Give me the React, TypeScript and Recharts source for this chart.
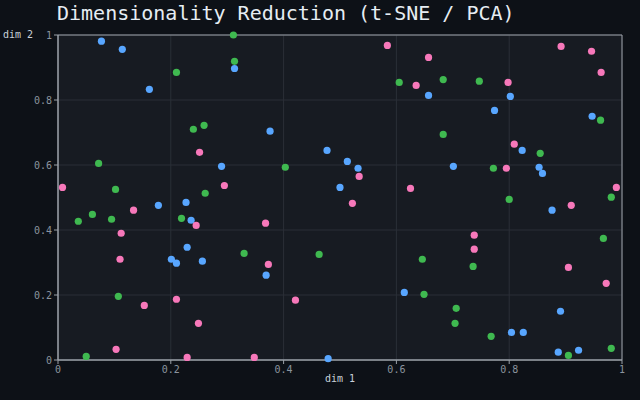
import {
  ScatterChart,
  Scatter,
  XAxis,
  YAxis,
  CartesianGrid,
  ReferenceArea,
} from "recharts";

// embedding coordinates per cluster
const blueX = [0.077, 0.114, 0.162, 0.313, 0.29, 0.376, 0.477, 0.513, 0.532, 0.5, 0.657, 0.802, 0.774, 0.947, 0.823, 0.701, 0.853, 0.859, 0.178, 0.227, 0.236, 0.229, 0.201, 0.21, 0.256, 0.369, 0.479, 0.614, 0.876, 0.891, 0.804, 0.825, 0.887, 0.923];
const blueY = [0.981, 0.956, 0.833, 0.897, 0.596, 0.704, 0.645, 0.611, 0.59, 0.531, 0.814, 0.811, 0.768, 0.75, 0.645, 0.596, 0.593, 0.574, 0.476, 0.485, 0.43, 0.347, 0.31, 0.298, 0.304, 0.261, 0.004, 0.208, 0.461, 0.15, 0.085, 0.085, 0.024, 0.03];

const pinkX = [0.008, 0.251, 0.295, 0.584, 0.657, 0.635, 0.534, 0.625, 0.892, 0.946, 0.963, 0.798, 0.809, 0.795, 0.99, 0.134, 0.245, 0.112, 0.11, 0.21, 0.153, 0.249, 0.103, 0.229, 0.522, 0.368, 0.373, 0.421, 0.348, 0.91, 0.738, 0.738, 0.905, 0.972];
const pinkY = [0.531, 0.639, 0.537, 0.968, 0.931, 0.845, 0.565, 0.528, 0.965, 0.95, 0.885, 0.854, 0.664, 0.59, 0.531, 0.461, 0.414, 0.39, 0.31, 0.187, 0.168, 0.113, 0.033, 0.008, 0.482, 0.421, 0.294, 0.184, 0.008, 0.476, 0.384, 0.341, 0.285, 0.236];

const greenX = [0.311, 0.313, 0.21, 0.24, 0.259, 0.072, 0.102, 0.261, 0.605, 0.403, 0.683, 0.747, 0.962, 0.683, 0.855, 0.772, 0.8, 0.981, 0.036, 0.061, 0.095, 0.219, 0.107, 0.05, 0.33, 0.463, 0.646, 0.649, 0.967, 0.736, 0.706, 0.704, 0.768, 0.905, 0.981];
const greenY = [1.0, 0.919, 0.885, 0.71, 0.722, 0.605, 0.525, 0.513, 0.854, 0.593, 0.863, 0.858, 0.738, 0.694, 0.636, 0.59, 0.494, 0.501, 0.427, 0.448, 0.433, 0.436, 0.196, 0.011, 0.328, 0.325, 0.31, 0.202, 0.374, 0.288, 0.159, 0.113, 0.073, 0.014, 0.036];

const ticks = [0, 0.2, 0.4, 0.6, 0.8, 1];

const toPoints = (xs: number[], ys: number[]) => xs.map((x, i) => ({ x, y: ys[i] }));

const series = [
  { name: "A", data: toPoints(blueX, blueY), color: "#58a6ff" },
  { name: "B", data: toPoints(pinkX, pinkY), color: "#f778ba" },
  { name: "C", data: toPoints(greenX, greenY), color: "#3fb950" },
];

const mono = "'DejaVu Sans Mono', monospace";
const tickStyle = { fill: "#8b949e", fontSize: 10, fontFamily: mono };

const Dot = (props: any) => <circle cx={props.cx} cy={props.cy} r={3.6} fill={props.fill} />;

export default function App() {
  return (
    <div
      style={{
        position: "fixed",
        top: 0,
        left: 0,
        width: 640,
        height: 400,
        background: "#0d1117",
        fontFamily: mono,
      }}
    >
      <div
        style={{
          position: "absolute",
          left: 57,
          top: 3,
          fontSize: 20,
          lineHeight: "20px",
          color: "#e6edf3",
          whiteSpace: "nowrap",
        }}
      >
        Dimensionality Reduction (t-SNE / PCA)
      </div>
      <div
        style={{
          position: "absolute",
          left: 3,
          top: 30,
          fontSize: 10,
          lineHeight: "10px",
          color: "#c9d1d9",
        }}
      >
        dim 2
      </div>
      <ScatterChart width={640} height={400} margin={{ top: 35, right: 18, bottom: 10, left: 0 }}>
        <CartesianGrid stroke="#2a2f37" fill="#171b22" />
        <XAxis
          type="number"
          dataKey="x"
          domain={[0, 1]}
          ticks={ticks}
          height={30}
          stroke="#9ba1a8"
          tick={tickStyle}
          tickSize={4}
          tickMargin={2}
          label={{ value: "dim 1", position: "insideBottom", offset: 8, fill: "#c9d1d9", fontSize: 10, fontFamily: mono }}
        />
        <YAxis
          type="number"
          dataKey="y"
          domain={[0, 1]}
          ticks={ticks}
          width={58}
          stroke="#9ba1a8"
          tick={tickStyle}
          tickSize={4}
          tickMargin={2}
        />
        <ReferenceArea x1={0} x2={1} y1={0} y2={1} fill="none" fillOpacity={0} stroke="#9ba1a8" strokeOpacity={1} />
        {series.map((s) => (
          <Scatter
            key={s.name}
            name={s.name}
            data={s.data}
            fill={s.color}
            shape={Dot}
            isAnimationActive={false}
          />
        ))}
      </ScatterChart>
    </div>
  );
}
